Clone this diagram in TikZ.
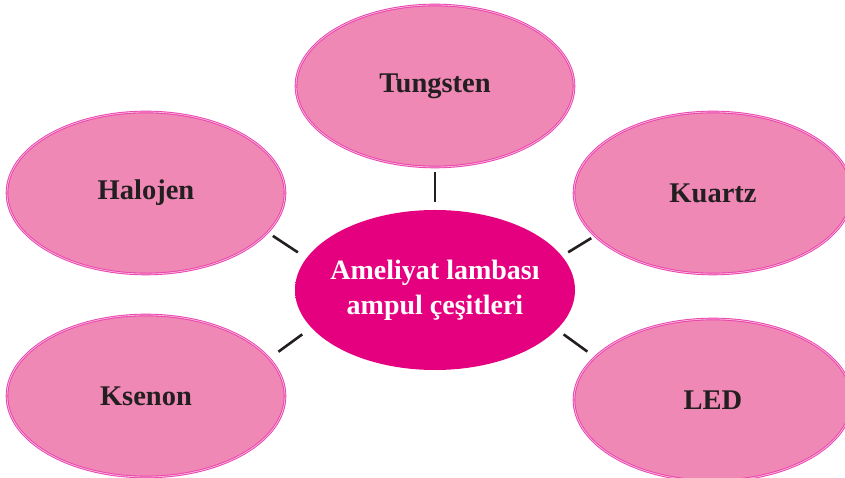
\documentclass[tikz,border=0pt]{standalone}
\usepackage{fontspec}
\setmainfont{Liberation Serif}
\usepackage{tikz}
\usetikzlibrary{shapes.geometric, positioning}
\definecolor{mypink}{HTML}{F088B5}
\definecolor{mypinklight}{HTML}{F7B8D6}
\definecolor{myrim}{HTML}{EB3FAE}
\definecolor{mymagenta}{HTML}{E5007F}
\definecolor{mymagentalight}{HTML}{F06AB2}
\definecolor{mytext}{HTML}{231F20}
\pgfdeclareradialshading{pinkglow}{\pgfpoint{0bp}{0bp}}{color(0bp)=(mypink); color(41bp)=(mypink); color(49bp)=(mypinklight); color(52bp)=(mypinklight)}
\pgfdeclareradialshading{magentaglow}{\pgfpoint{0bp}{0bp}}{color(0bp)=(mymagenta); color(43bp)=(mymagenta); color(49bp)=(mymagentalight); color(52bp)=(mymagentalight)}
\tikzset{
  lamp/.style={ellipse, minimum width=278pt, minimum height=162pt, inner sep=0pt,
    shade, shading=pinkglow, draw=myrim, line width=0.9pt, double=mypinklight, double distance=0.8pt,
    font=\fontsize{28.5}{33}\selectfont\bfseries, text=mytext},
  hub/.style={lamp, shading=magentaglow, draw=none, text=white, align=center,
    inner xsep=-30pt, minimum width=280pt, minimum height=160pt,
    font=\fontsize{28}{35}\selectfont\bfseries},
  link/.style={line width=2.6pt, mytext}
}

\begin{document}
\begin{tikzpicture}[x=1pt, y=1pt]
				\useasboundingbox (0,0) rectangle (845,478);
				\node[hub] (c) at (435,188) {Ameliyat lambası\\ampul çeşitleri};
				\node[lamp] (tung) at (435,392) {Tungsten};
				\node[lamp] (halo) at (146,285) {Halojen};
				\node[lamp] (kuar) at (713,285) {Kuartz};
				\node[lamp] (kse) at (146,82) {Ksenon};
				\node[lamp] (led) at (713,78) {LED};
				\draw [link, shorten <=8pt, shorten >=5pt] (c.90) -- (tung.-90);
				\draw [link, shorten <=10pt, shorten >=6pt] (c.166) -- (halo.-18);
				\draw [link, shorten <=7pt, shorten >=4pt] (c.15) -- (kuar.-160);
				\draw [link, shorten <=11pt, shorten >=11pt] (c.197) -- (kse.17);
				\draw [link, shorten <=8pt, shorten >=9pt] (c.-18) -- (led.160);
			\end{tikzpicture}
\end{document}
